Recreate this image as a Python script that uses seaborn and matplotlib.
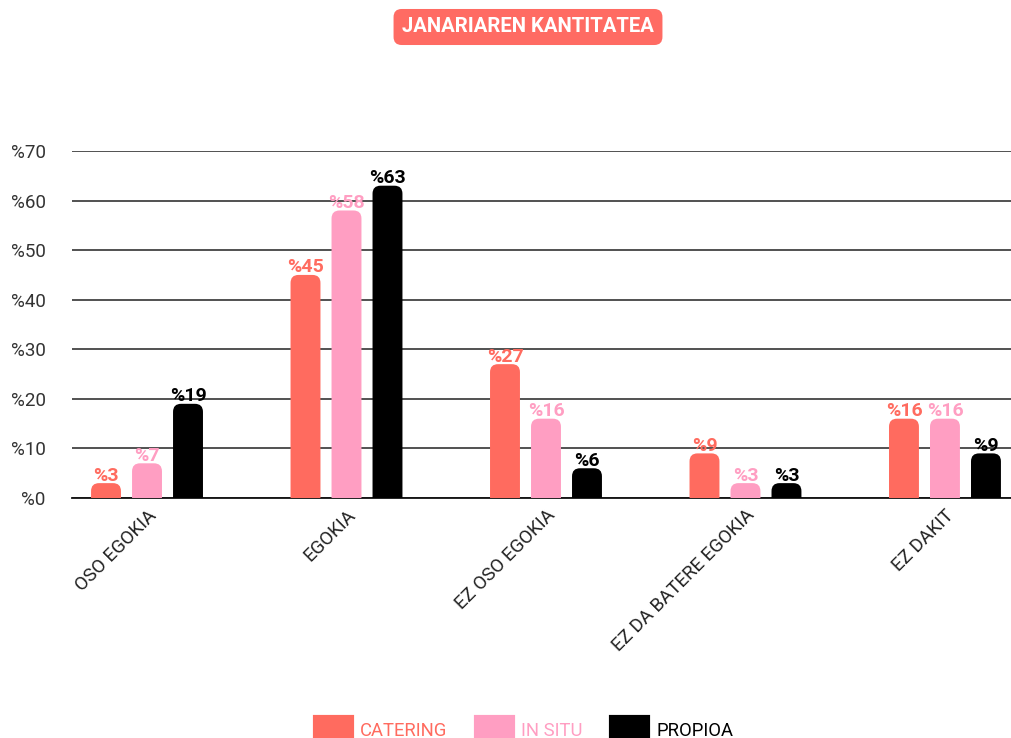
import matplotlib
matplotlib.use("Agg")
import matplotlib.pyplot as plt
import seaborn as sns
import pandas as pd
from matplotlib.patches import FancyBboxPatch, Patch

categories = ["OSO EGOKIA", "EGOKIA", "EZ OSO EGOKIA", "EZ DA BATERE EGOKIA", "EZ DAKIT"]
series = ["CATERING", "IN SITU", "PROPIOA"]
catering = [3, 45, 27, 9, 16]
in_situ = [7, 58, 16, 3, 16]
propioa = [19, 63, 6, 3, 9]
yticks = [0, 10, 20, 30, 40, 50, 60, 70]
colors = ["#FF6B5F", "#FF9EC2", "#000000"]
title = "JANARIAREN KANTITATEA"

sns.set_theme(style="white")
plt.rcParams["font.family"] = ["Roboto", "DejaVu Sans"]

df = pd.DataFrame({
    "cat": categories * 3,
    "serie": [series[0]] * 5 + [series[1]] * 5 + [series[2]] * 5,
    "val": catering + in_situ + propioa,
})

fig = plt.figure(figsize=(10.12, 7.38), dpi=100)
ax = fig.add_axes([72 / 1012, 1 - 498 / 738, 1 - 72 / 1012, (498 - 151) / 738])

sns.barplot(data=df, x="cat", y="val", hue="serie", palette=colors,
            width=0.6165, gap=0.27, legend=False, ax=ax, zorder=3)

ax.set_xlim(-0.376, 4.336)
ax.set_ylim(0, 70)

# px per data unit
px_x = 940 / (4.336 + 0.376)
px_y = 347 / 70
aspect = px_x / px_y
r = 8 / px_x

for cont, col in zip(ax.containers, colors):
    for bar in cont:
        x, w, h = bar.get_x(), bar.get_width(), bar.get_height()
        fb = FancyBboxPatch((x, -3), w, h + 3,
                            boxstyle=f"round,pad=0,rounding_size={r}",
                            mutation_aspect=aspect,
                            facecolor=col, edgecolor="none", zorder=3)
        ax.add_patch(fb)
        bar.set_visible(False)
    vals = [b.get_height() for b in cont]
    ax.bar_label(cont, labels=[f"%{int(v)}" for v in vals], padding=-1,
                 color=col, fontweight="bold", fontsize=14, zorder=5)

ax.set_yticks(yticks)
ax.set_yticklabels([f"%{v}" for v in yticks], fontsize=13.5, color="#333333")
ax.yaxis.grid(True, color="#333333", linewidth=1.2, zorder=0)
ax.set_axisbelow(True)
for s in ["top", "right", "left"]:
    ax.spines[s].set_visible(False)
ax.spines["bottom"].set_color("#111111")
ax.spines["bottom"].set_linewidth(1.3)
ax.tick_params(axis="y", length=0, pad=19)
ax.tick_params(axis="x", length=0, pad=6)
ax.set_xlabel("")
ax.set_ylabel("")
ax.set_xticks(range(len(categories)))
ax.set_xticklabels(categories, rotation=45, ha="right", rotation_mode="anchor",
                   fontsize=13.5, color="#222222")

fig.text(528 / 1012, 1 - 27 / 738, title, ha="center", va="center",
         fontsize=14.6, fontweight="bold", color="white",
         bbox=dict(boxstyle="round,pad=0.42,rounding_size=0.4",
                   facecolor="#FF6B63", edgecolor="none"))

handles = [Patch(facecolor=c, edgecolor=c, linewidth=3, joinstyle="round") for c in colors]
leg = fig.legend(handles, series, loc="upper center", bbox_to_anchor=(0.518, 1 - 710 / 738),
                 ncol=3, frameon=False, fontsize=13.3, handlelength=2.0, handleheight=1.65,
                 handletextpad=0.45, columnspacing=1.55, labelcolor=colors, borderaxespad=0)

fig.savefig("out.png", dpi=100)
